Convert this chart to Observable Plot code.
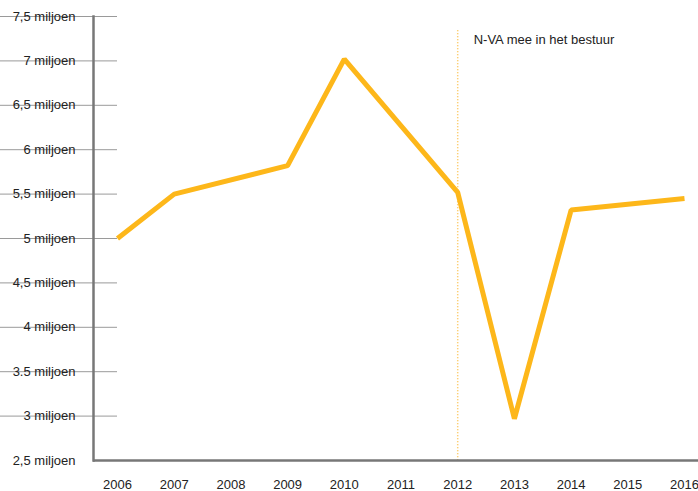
<!DOCTYPE html>
<html>
<head>
<meta charset="utf-8">
<script src="https://cdn.jsdelivr.net/npm/d3@7"></script>
<script src="https://cdn.jsdelivr.net/npm/@observablehq/plot@0.6"></script>
<style>
  html, body { margin: 0; padding: 0; background: #fff; }
</style>
</head>
<body>
<div id="chart"></div>
<script>
// Data
const years = [2006, 2007, 2009, 2010, 2012, 2013, 2014, 2016];
const visitors = [5.0, 5.5, 5.82, 7.02, 5.52, 2.97, 5.32, 5.45];

// Axes
const xTicks = [2006, 2007, 2008, 2009, 2010, 2011, 2012, 2013, 2014, 2015, 2016];
const yTickValues = [2.5, 3, 3.5, 4, 4.5, 5, 5.5, 6, 6.5, 7, 7.5];
const yTickLabels = ["2,5 miljoen", "3 miljoen", "3.5 miljoen", "4 miljoen", "4,5 miljoen",
  "5 miljoen", "5,5 miljoen", "6 miljoen", "6,5 miljoen", "7 miljoen", "7,5 miljoen"];

// Annotation
const eventYear = 2012;
const eventLabel = "N-VA mee in het bestuur";
const eventTop = 7.34;
const eventLabelY = 7.24;

const table = years.map((y, i) => ({year: y, value: visitors[i]}));
const gridValues = yTickValues.filter(v => v > 2.5);

const lineColor = "#FDB71A";

const chart = Plot.plot({
  width: 698,
  height: 491,
  marginLeft: 93,
  marginRight: 0,
  marginTop: 16,
  marginBottom: 31,
  x: {domain: [2006, 2016], insetLeft: 24, insetRight: 14, label: null},
  y: {domain: [2.5, 7.5], label: null},
  style: {fontFamily: "'Liberation Sans', Arial, sans-serif", fontSize: "13px", color: "#222", background: "#fff"},
  marks: [
    Plot.ruleY(gridValues, {y: d => d, x1: 2006, stroke: "#9a9a9a", strokeWidth: 1, strokeOpacity: 1}),
    Plot.ruleX([eventYear], {x: d => d, y1: eventTop, y2: 2.5, stroke: "#FBC04A", strokeWidth: 1.5, strokeDasharray: "1,2"}),
    Plot.text([eventLabel], {x: eventYear, y: eventLabelY, text: d => d, dx: 16, textAnchor: "start", fontSize: 13, fill: "#222"}),
    Plot.line(table, {x: "year", y: "value", stroke: lineColor, strokeWidth: 5, strokeLinejoin: "miter", strokeLinecap: "butt"}),
    Plot.ruleY([2.5], {stroke: "#777", strokeWidth: 2.5, strokeOpacity: 1}),
    Plot.frame({anchor: "left", stroke: "#777", strokeWidth: 2.5, strokeOpacity: 1}),
    Plot.axisY(yTickValues, {tickSize: 0, tickPadding: 18, label: null, tickFormat: d => yTickLabels[yTickValues.indexOf(d)], fontSize: 13, fill: "#222"}),
    Plot.axisX(xTicks, {tickSize: 0, tickPadding: 19, label: null, tickFormat: d => String(d), fontSize: 13, fill: "#222"})
  ]
});
document.getElementById("chart").appendChild(chart);
</script>
</body>
</html>
